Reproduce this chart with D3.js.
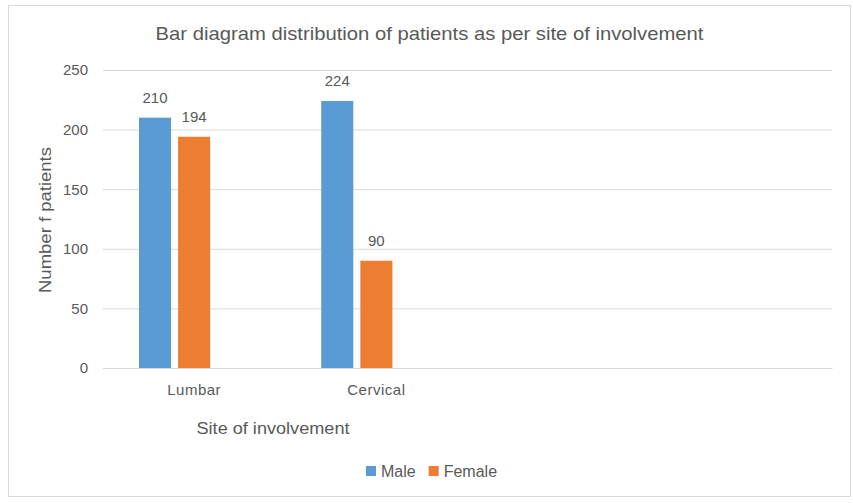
<!DOCTYPE html>
<html>
<head>
<meta charset="utf-8">
<script src="https://cdn.jsdelivr.net/npm/d3@7"></script>
<style>
  body { margin: 0; background: #fff; }
  text { font-family: "Liberation Sans", Arial, sans-serif; fill: #595959; }
</style>
</head>
<body>
<div id="chart"></div>
<script>
// data
const categories = ["Lumbar", "Cervical", "", ""];
const seriesNames = ["Male", "Female", ""];   // third slot is an empty series
const male = [210, 224, null, null];
const female = [194, 90, null, null];
const yTicks = [0, 50, 100, 150, 200, 250];

function init() {
    var w = 853;
    var h = 503;
    var left = 103, right = 832, top = 70, bottom = 368;
    const colors = { Male: "#5b9bd5", Female: "#ed7d31" };

    const svg = d3.select("#chart")
        .append("svg")
        .attr("width", w)
        .attr("height", h);

    // chart border
    svg.append("rect")
        .attr("x", 8.5).attr("y", 5.5)
        .attr("width", 842).attr("height", 491)
        .attr("fill", "#fff")
        .attr("stroke", "#d9d9d9");

    const x0 = d3.scaleBand()
        .domain(d3.range(categories.length))
        .range([left, right]);

    const x1 = d3.scaleBand()
        .domain(seriesNames.map((d, i) => i))
        .range([36, x0.bandwidth() - 36])
        .paddingInner(0.18);

    const yScale = d3.scaleLinear()
        .domain([0, 250])
        .range([bottom, top]);

    // gridlines
    const grid = svg.append("g")
        .attr("transform", `translate(${left}, 0)`)
        .call(d3.axisLeft(yScale).tickValues(yTicks).tickSize(-(right - left)).tickFormat(""));
    grid.select(".domain").remove();
    grid.selectAll("line").attr("stroke", "#d9d9d9");

    // y axis labels
    const yAxis = svg.append("g")
        .attr("transform", `translate(${left}, 0)`)
        .call(d3.axisLeft(yScale).tickValues(yTicks).tickSize(0).tickPadding(15));
    yAxis.select(".domain").remove();
    yAxis.selectAll("text").style("font-size", "15px").attr("fill", "#595959");

    // x axis
    const xAxis = svg.append("g")
        .attr("transform", `translate(0, ${bottom})`)
        .call(d3.axisBottom(x0).tickSize(0).tickPadding(16).tickFormat(i => categories[i]));
    xAxis.select(".domain").attr("stroke", "#d9d9d9");
    xAxis.selectAll("text").style("font-size", "15px").style("letter-spacing", "0.5px").attr("fill", "#595959");

    // bars
    const series = [
        { name: "Male", values: male },
        { name: "Female", values: female }
    ];
    series.forEach((s, si) => {
        const pts = s.values
            .map((v, i) => ({ i: i, v: v }))
            .filter(d => d.v !== null);

        svg.selectAll(".bar-" + si)
            .data(pts)
            .enter()
            .append("rect")
            .attr("x", d => x0(d.i) + x1(si))
            .attr("y", d => yScale(d.v))
            .attr("width", x1.bandwidth())
            .attr("height", d => yScale(0) - yScale(d.v))
            .attr("fill", colors[s.name]);

        svg.selectAll(".lbl-" + si)
            .data(pts)
            .enter()
            .append("text")
            .attr("x", d => x0(d.i) + x1(si) + x1.bandwidth() / 2)
            .attr("y", d => yScale(d.v) - 15)
            .attr("text-anchor", "middle")
            .style("font-size", "15px")
            .text(d => d.v);
    });

    // title
    svg.append("text")
        .attr("x", 429.5).attr("y", 40)
        .attr("text-anchor", "middle")
        .attr("textLength", 548)
        .attr("lengthAdjust", "spacingAndGlyphs")
        .style("font-size", "19px")
        .text("Bar diagram distribution of patients as per site of involvement");

    // axis titles
    svg.append("text")
        .attr("transform", "translate(51, 220) rotate(-90)")
        .attr("text-anchor", "middle")
        .attr("textLength", 146)
        .attr("lengthAdjust", "spacingAndGlyphs")
        .style("font-size", "16px")
        .text("Number  f patients");

    svg.append("text")
        .attr("x", 273).attr("y", 434)
        .attr("text-anchor", "middle")
        .attr("textLength", 153)
        .attr("lengthAdjust", "spacingAndGlyphs")
        .style("font-size", "16px")
        .text("Site of involvement");

    // legend
    const legend = svg.append("g");
    let lx = 366;
    series.forEach(s => {
        legend.append("rect")
            .attr("x", lx).attr("y", 466)
            .attr("width", 10).attr("height", 10)
            .attr("fill", colors[s.name]);
        const t = legend.append("text")
            .attr("x", lx + 15).attr("y", 477)
            .style("font-size", "16px")
            .text(s.name);
        lx += 15 + t.node().getComputedTextLength() + 13;
    });
}

window.onload = init;
</script>
</body>
</html>
